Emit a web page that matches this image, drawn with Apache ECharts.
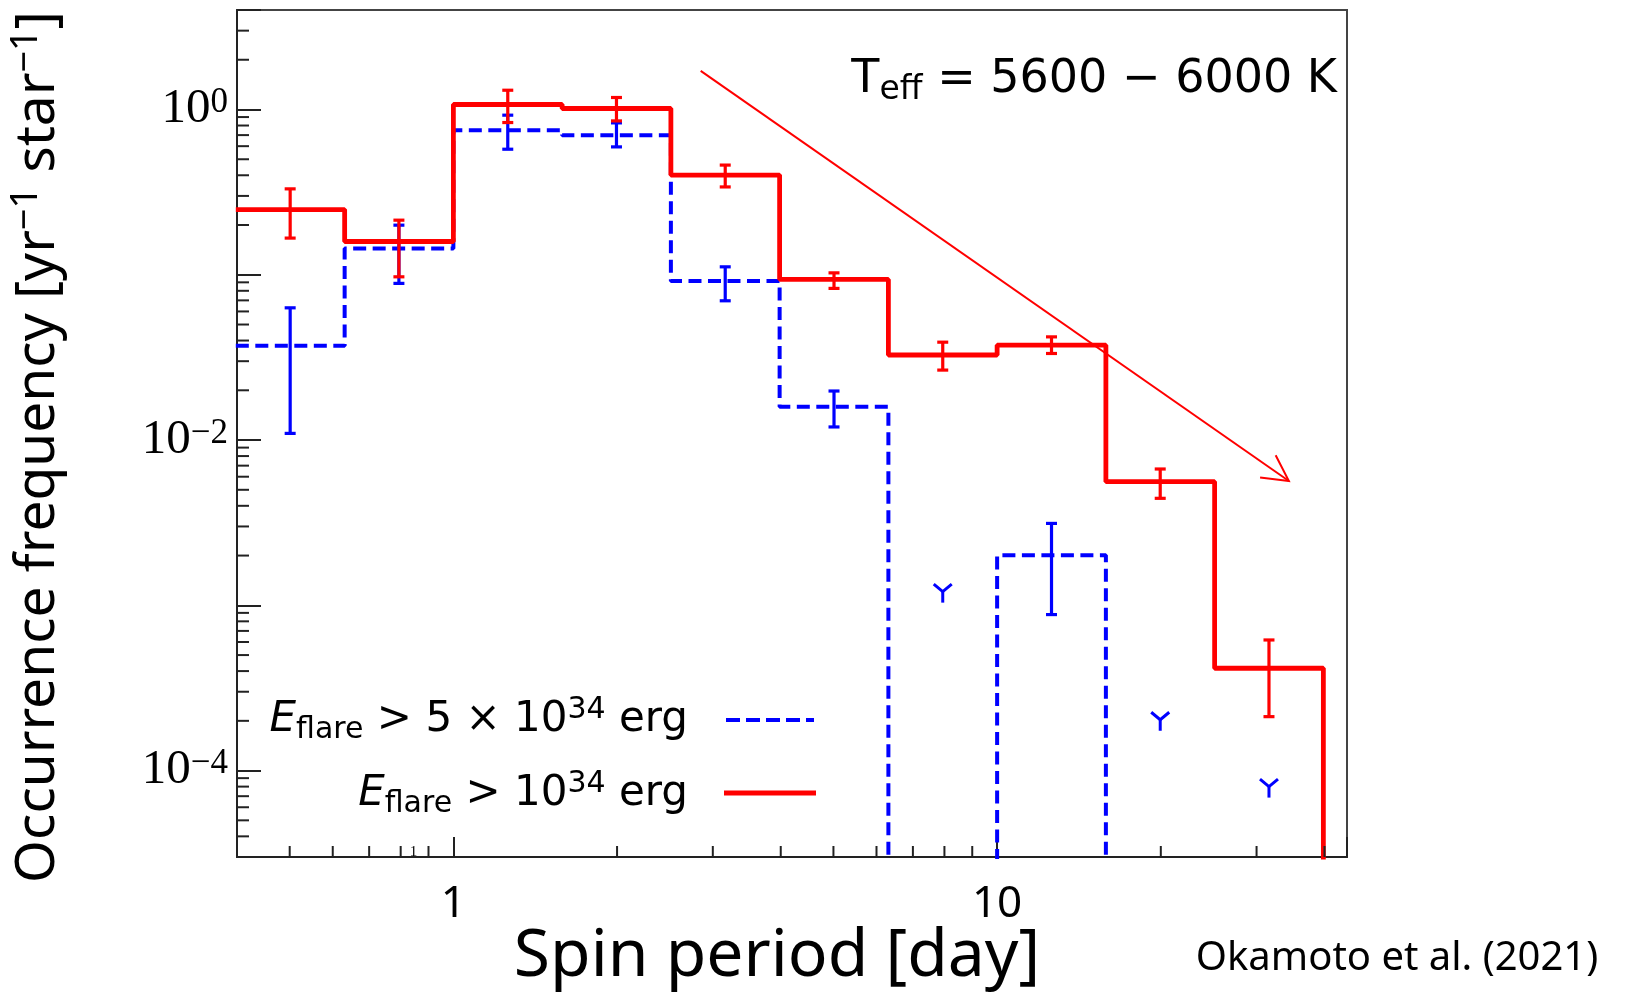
<!DOCTYPE html>
<html><head><meta charset="utf-8">
<script src="https://cdn.jsdelivr.net/npm/echarts@6/dist/echarts.min.js"></script>
<style>html,body{margin:0;padding:0;background:#fff}#c{width:1639px;height:994px}</style>
</head><body><div id="c"></div>
<script>
// ---- data ----
const binEdges   = [0.398, 0.631, 1.0, 1.585, 2.512, 3.981, 6.310, 10.0, 15.85, 25.12, 39.81];
const binCenters = [0.501, 0.794, 1.259, 1.995, 3.162, 5.012, 7.943, 12.59, 19.95, 31.62];

const redFreq    = [0.248, 0.159, 1.072, 1.014, 0.401, 0.0937, 0.0327, 0.0375, 0.0056, 0.000416];
const redErrLow  = [0.1667, 0.0972, 0.834, 0.853, 0.340, 0.0827, 0.0265, 0.0334, 0.00444, 0.000212];
const redErrHigh = [0.331, 0.214, 1.308, 1.182, 0.461, 0.1027, 0.0391, 0.0421, 0.00668, 0.000617];

const blueFreq    = [0.0372, 0.144, 0.749, 0.699, 0.0916, 0.0159, 0, 0.00201, 0, 0];
const blueErrLow  = [0.01097, 0.0887, 0.575, 0.594, 0.0696, 0.0120, null, 0.000879, null, null];
const blueErrHigh = [0.0631, 0.1996, 0.924, 0.830, 0.1117, 0.0198, null, 0.00313, null, null];

const blueLimitX = [7.943, 19.95, 31.62];
const blueLimitY = [0.00121, 0.000203, 0.000080];

const arrowStart = [2.85, 1.712];
const arrowEnd   = [34.4, 0.00565];

const xRange = [0.4, 44];
const yRange = [3e-5, 4];
const xMinorTicks = [0.5, 0.6, 0.7, 0.8, 0.9, 2, 3, 4, 5, 6, 7, 8, 9, 20, 30, 40];
const yMinorMult = [2, 3, 4, 5, 6, 7, 8, 9];
const yDecades = [-5, -4, -3, -2, -1, 0];

// ---- helpers ----
const FLOOR = 1e-9;
function stepPoints(edges, vals) {
  const pts = [];
  for (let i = 0; i < vals.length; i++) {
    const v = vals[i] > 0 ? vals[i] : FLOOR;
    pts.push([edges[i], v], [edges[i + 1], v]);
  }
  pts.push([edges[edges.length - 1], FLOOR]);
  return pts;
}
const yMinorTicks = [];
yDecades.forEach(d => yMinorMult.forEach(m => {
  const v = m * Math.pow(10, d);
  if (v > yRange[0] && v <= yRange[1] * 1.0001) yMinorTicks.push(v);
}));

function errRender(color) {
  return function (params, api) {
    const x = api.value(0), lo = api.value(1), hi = api.value(2);
    const a = api.coord([x, lo]), b = api.coord([x, hi]);
    const w = 5.5, s = { stroke: color, lineWidth: 3.2 };
    return { type: 'group', children: [
      { type: 'line', shape: { x1: a[0], y1: a[1], x2: b[0], y2: b[1] }, style: s },
      { type: 'line', shape: { x1: a[0] - w, y1: a[1], x2: a[0] + w, y2: a[1] }, style: s },
      { type: 'line', shape: { x1: b[0] - w, y1: b[1], x2: b[0] + w, y2: b[1] }, style: s }
    ]};
  };
}

const redErrData = binCenters.map((c, i) => [c, redErrLow[i], redErrHigh[i]]);
const blueErrData = binCenters.map((c, i) => [c, blueErrLow[i], blueErrHigh[i]]).filter(d => d[1] != null);
const limitData = blueLimitX.map((x, i) => [x, blueLimitY[i]]);

const SERIF = '"Liberation Serif", "DejaVu Serif", serif';
const SANS = '"DejaVu Sans", sans-serif';
const TITLE = '"Noto Sans", "Open Sans", sans-serif';
const AX = '#222';

function legendRich() {
  return { n: { fontFamily: SANS, fontSize: 42, lineHeight: 50, fill: '#000', color: '#000' },
           i: { fontFamily: SANS, fontStyle: 'italic', fontSize: 42, lineHeight: 50, fill: '#000', color: '#000' },
           sub: { fontFamily: SANS, fontSize: 30, lineHeight: 28, verticalAlign: 'bottom', fill: '#000', color: '#000' },
           sup: { fontFamily: SANS, fontSize: 30, lineHeight: 26, verticalAlign: 'top', fill: '#000', color: '#000' } };
}

const chart = echarts.init(document.getElementById('c'), null, { renderer: 'canvas' });
chart.setOption({
  animation: false,
  backgroundColor: '#fff',
  grid: { left: 237, right: 292, top: 10, bottom: 137, show: true, borderColor: '#444', borderWidth: 2, backgroundColor: 'transparent' },
  xAxis: {
    type: 'log', logBase: 10, min: xRange[0], max: xRange[1],
    axisLine: { show: true, lineStyle: { color: AX, width: 2 } },
    axisTick: { show: true, inside: true, length: 20, lineStyle: { color: AX, width: 2 } },
    splitLine: { show: false },
    axisLabel: {
      interval: 0, margin: 25, color: '#000', fontFamily: TITLE, fontSize: 44,
      formatter: function (v) {
        const l = Math.log10(v), e = Math.round(l);
        if (Math.abs(l - e) > 1e-6) return '';
        return String(Math.round(Math.pow(10, e)));
      }
    }
  },
  yAxis: {
    type: 'log', logBase: 10, min: yRange[0], max: yRange[1],
    axisLine: { show: true, lineStyle: { color: AX, width: 2 } },
    axisTick: { show: true, inside: true, length: 24, lineStyle: { color: AX, width: 2 } },
    splitLine: { show: false },
    axisLabel: {
      interval: 0, margin: 9, color: '#000',
      formatter: function (v) {
        const l = Math.log10(v), e = Math.round(l);
        if (Math.abs(l - e) > 1e-6 || e % 2 !== 0) return '';
        return '{b|10}{s|' + (e < 0 ? '\u2212' + (-e) : e) + '}';
      },
      rich: {
        b: { fontFamily: SERIF, fontSize: 49, lineHeight: 48, color: '#000' },
        s: { fontFamily: SERIF, fontSize: 35, lineHeight: 18, verticalAlign: 'top', color: '#000' }
      }
    }
  },
  series: [
    { type: 'custom', name: 'xminor', silent: true, clip: false, z: 5,
      data: xMinorTicks.map(v => [v, yRange[0]]), encode: { x: 0, y: 1 },
      renderItem: (p, api) => { const c = api.coord([api.value(0), api.value(1)]);
        return { type: 'line', shape: { x1: c[0], y1: c[1], x2: c[0], y2: c[1] - 11 }, style: { stroke: AX, lineWidth: 2 } }; } },
    { type: 'custom', name: 'yminor', silent: true, clip: false, z: 5,
      data: yMinorTicks.map(v => [xRange[0], v]), encode: { x: 0, y: 1 },
      renderItem: (p, api) => { const c = api.coord([api.value(0), api.value(1)]);
        return { type: 'line', shape: { x1: c[0], y1: c[1], x2: c[0] + 12, y2: c[1] }, style: { stroke: AX, lineWidth: 2 } }; } },
    { type: 'line', name: 'E > 5e34', data: stepPoints(binEdges, blueFreq), symbol: 'none', clip: true, z: 2,
      lineStyle: { color: '#0000ff', width: 4, type: [13, 6.5] } },
    { type: 'custom', name: 'blueErr', data: blueErrData, encode: { x: 0, y: [1, 2] }, z: 3, renderItem: errRender('#0000ff') },
    { type: 'line', name: 'E > 1e34', data: stepPoints(binEdges, redFreq), symbol: 'none', clip: true, z: 4,
      lineStyle: { color: '#ff0000', width: 4.8 } },
    { type: 'custom', name: 'redErr', data: redErrData, encode: { x: 0, y: [1, 2] }, z: 6, renderItem: errRender('#ff0000') },
    { type: 'custom', name: 'blueLimits', data: limitData, encode: { x: 0, y: 1 }, z: 6,
      renderItem: (p, api) => { const c = api.coord([api.value(0), api.value(1)]);
        const s = { stroke: '#0000ff', lineWidth: 3, fill: 'none' };
        return { type: 'group', children: [
          { type: 'line', shape: { x1: c[0], y1: c[1], x2: c[0], y2: c[1] + 11 }, style: s },
          { type: 'polyline', shape: { points: [[c[0] - 9, c[1] - 7.5], [c[0], c[1]], [c[0] + 9, c[1] - 7.5]] }, style: s }
        ]}; } },
    { type: 'custom', name: 'arrow', silent: true, z: 7,
      data: [[arrowStart[0], arrowStart[1], arrowEnd[0], arrowEnd[1]]], encode: { x: [0, 2], y: [1, 3] },
      renderItem: (p, api) => {
        const a = api.coord([api.value(0), api.value(1)]), b = api.coord([api.value(2), api.value(3)]);
        const ang = Math.atan2(b[1] - a[1], b[0] - a[0]), L = 29, h = 28 * Math.PI / 180;
        const p1 = [b[0] - L * Math.cos(ang - h), b[1] - L * Math.sin(ang - h)];
        const p2 = [b[0] - L * Math.cos(ang + h), b[1] - L * Math.sin(ang + h)];
        const s = { stroke: '#ff0000', lineWidth: 2, fill: 'none' };
        return { type: 'group', children: [
          { type: 'line', shape: { x1: a[0], y1: a[1], x2: b[0], y2: b[1] }, style: s },
          { type: 'polyline', shape: { points: [p1, b, p2] }, style: s }
        ]};
      } }
  ],
  graphic: [
    { type: 'text', x: 1337, y: 80, z: 10,
      style: { text: '{t|T}{sub|eff}{t| = 5600 \u2212 6000 K}', align: 'right', verticalAlign: 'middle',
        rich: { t: { fontFamily: SANS, fontSize: 46, lineHeight: 54, fill: '#000', color: '#000' },
                sub: { fontFamily: SANS, fontSize: 33, lineHeight: 32, verticalAlign: 'bottom', fill: '#000', color: '#000' } } } },
    { type: 'text', x: 688, y: 720, z: 10,
      style: { text: '{i|E}{sub|flare}{n| > 5 \u00d7 10}{sup|34}{n| erg}', align: 'right', verticalAlign: 'middle', rich: legendRich() } },
    { type: 'text', x: 688, y: 794, z: 10,
      style: { text: '{i|E}{sub|flare}{n| > 10}{sup|34}{n| erg}', align: 'right', verticalAlign: 'middle', rich: legendRich() } },
    { type: 'line', z: 10, shape: { x1: 726, y1: 720, x2: 814, y2: 720 }, style: { stroke: '#0000ff', lineWidth: 4, lineDash: [14, 6] } },
    { type: 'line', z: 10, shape: { x1: 724, y1: 793, x2: 816, y2: 793 }, style: { stroke: '#ff0000', lineWidth: 4.8 } },
    { type: 'text', x: 38, y: 447, rotation: Math.PI / 2, z: 10,
      style: { text: '{n|Occurrence frequency [yr}{s|\u22121}{n| star}{s|\u22121}{n|]}', align: 'center', verticalAlign: 'middle',
        rich: { n: { fontFamily: TITLE, fontSize: 55, lineHeight: 62, fill: '#000', color: '#000' },
                s: { fontFamily: TITLE, fontSize: 38, lineHeight: 34, verticalAlign: 'top', fill: '#000', color: '#000' } } } },
    { type: 'text', x: 777, y: 957, z: 10,
      style: { text: 'Spin period [day]', fontFamily: TITLE, fontSize: 66, fill: '#000', align: 'center', verticalAlign: 'middle' } },
    { type: 'text', x: 1397, y: 959, z: 10,
      style: { text: 'Okamoto et al. (2021)', fontFamily: TITLE, fontSize: 40, fill: '#000', align: 'center', verticalAlign: 'middle' } },
    { type: 'text', x: 413.5, y: 852, z: 10,
      style: { text: '1', fontFamily: SERIF, fontSize: 15, fill: '#000', align: 'center', verticalAlign: 'middle' } }
  ]
});
</script></body></html>
